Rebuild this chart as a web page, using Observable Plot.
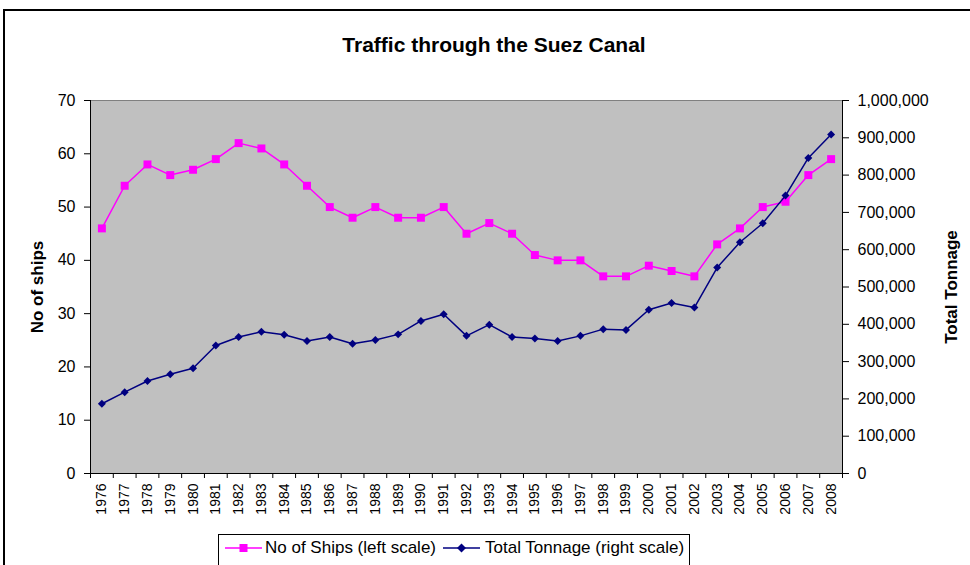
<!DOCTYPE html>
<html>
<head>
<meta charset="utf-8">
<script src="https://cdn.jsdelivr.net/npm/d3@7"></script>
<script src="https://cdn.jsdelivr.net/npm/@observablehq/plot@0.6"></script>
<style>
  html, body { margin: 0; padding: 0; background: #fff; }
  #wrap { position: relative; width: 970px; height: 565px; overflow: hidden; font-family: "Liberation Sans", Arial, sans-serif; }
  #frame { position: absolute; left: 3px; top: 9px; width: 1000px; height: 600px; border-top: 2px solid #000; border-left: 2px solid #000; }
  #title { position: absolute; left: 294px; top: 34px; width: 400px; text-align: center; font-size: 21px; line-height: 21px; font-weight: bold; color: #000; }
  #chart { position: absolute; left: 0; top: 0; }
  #legend { position: absolute; left: 218px; top: 534px; width: 472px; height: 40px; border: 1px solid #000; background: #fff; box-sizing: border-box; display: flex; align-items: flex-start; padding-top: 4px; padding-left: 6px; font-size: 17px; line-height: 17px; color: #000; white-space: nowrap; }
  #legend svg { display: block; margin-top: 3px; }
</style>
</head>
<body>
<div id="wrap">
  <div id="frame"></div>
  <div id="chart"></div>
  <div id="title">Traffic through the Suez Canal</div>
  <div id="legend">
    <svg width="37" height="12"><line x1="0" y1="6" x2="37" y2="6" stroke="#ff00ff" stroke-width="1.5"/><rect x="14.5" y="2" width="8" height="8" fill="#ff00ff"/></svg>
    <span style="margin-left:3px">No of Ships (left scale)</span>
    <svg width="37" height="12" style="margin-left:7px"><line x1="0" y1="6" x2="37" y2="6" stroke="#000080" stroke-width="1.5"/><path d="M18.5,1.5 L23,6 L18.5,10.5 L14,6 Z" fill="#000080"/></svg>
    <span style="margin-left:5px">Total Tonnage (right scale)</span>
  </div>
</div>
<script>
const years = [1976,1977,1978,1979,1980,1981,1982,1983,1984,1985,1986,1987,1988,1989,1990,1991,1992,1993,1994,1995,1996,1997,1998,1999,2000,2001,2002,2003,2004,2005,2006,2007,2008];
const ships = [46,54,58,56,57,59,62,61,58,54,50,48,50,48,48,50,45,47,45,41,40,40,37,37,39,38,37,43,46,50,51,56,59];
const tonnage = [187000,218000,248000,266000,282000,343000,366000,380000,372000,355000,366000,348000,358000,373000,409000,427000,369000,399000,366000,362000,355000,369000,387000,385000,439000,457000,445000,552000,620000,671000,745000,846000,909000];
const leftTicks = [0,10,20,30,40,50,60,70];
const rightTicks = [0,100000,200000,300000,400000,500000,600000,700000,800000,900000,1000000];
const leftMax = 70, rightMax = 1000000;
const toLeft = v => v * leftMax / rightMax;

const data = years.map((y, i) => ({year: y, ships: ships[i], tonnage: tonnage[i]}));
const boundaries = [years[0] - 0.5, ...years.map(y => y + 0.5)];
const fmt = d3.format(",");

const chart = Plot.plot({
  width: 970,
  height: 565,
  marginLeft: 90,
  marginRight: 128,
  marginTop: 100,
  marginBottom: 92,
  style: {fontFamily: '"Liberation Sans", Arial, sans-serif', fontSize: "16px", color: "#000", background: "transparent", overflow: "visible"},
  x: {type: "linear", domain: [years[0] - 0.5, years[years.length - 1] + 0.5], axis: null},
  y: {domain: [0, leftMax], axis: null},
  marks: [
    Plot.frame({fill: "#c0c0c0", stroke: "#808080", strokeWidth: 1}),
    Plot.ruleY([0], {stroke: "#000"}),
    Plot.ruleX([boundaries[0], boundaries[boundaries.length - 1]], {stroke: "#000"}),
    Plot.axisY(leftTicks, {anchor: "left", label: null, tickSize: 6, tickPadding: 9, fontSize: 16, stroke: "#000", fill: "#000"}),
    Plot.axisY(rightTicks.map(toLeft), {anchor: "right", label: null, tickSize: 6, tickPadding: 9, fontSize: 16, tickFormat: v => fmt(Math.round(v * rightMax / leftMax)), stroke: "#000", fill: "#000"}),
    Plot.axisX(boundaries, {anchor: "bottom", label: null, tickSize: 5, tickFormat: () => "", stroke: "#000"}),
    Plot.axisX(years, {anchor: "bottom", label: null, tickSize: 0, tickPadding: 10, tickRotate: -90, fontSize: 14, tickFormat: d => String(d), fill: "#000"}),
    Plot.text(["No of ships"], {frameAnchor: "left", textAnchor: "middle", dx: -53, rotate: -90, fontSize: 17, fontWeight: "bold", fill: "#000"}),
    Plot.text(["Total Tonnage"], {frameAnchor: "right", textAnchor: "middle", dx: 109, rotate: -90, fontSize: 17, fontWeight: "bold", fill: "#000"}),
    Plot.line(data, {x: "year", y: "ships", stroke: "#ff00ff", strokeWidth: 1.5}),
    Plot.dot(data, {x: "year", y: "ships", symbol: "square", r: 4.5, fill: "#ff00ff"}),
    Plot.line(data, {x: "year", y: d => toLeft(d.tonnage), stroke: "#000080", strokeWidth: 1.5}),
    Plot.dot(data, {x: "year", y: d => toLeft(d.tonnage), symbol: "diamond2", r: 3.6, fill: "#000080"})
  ]
});
document.getElementById("chart").appendChild(chart);
</script>
</body>
</html>
